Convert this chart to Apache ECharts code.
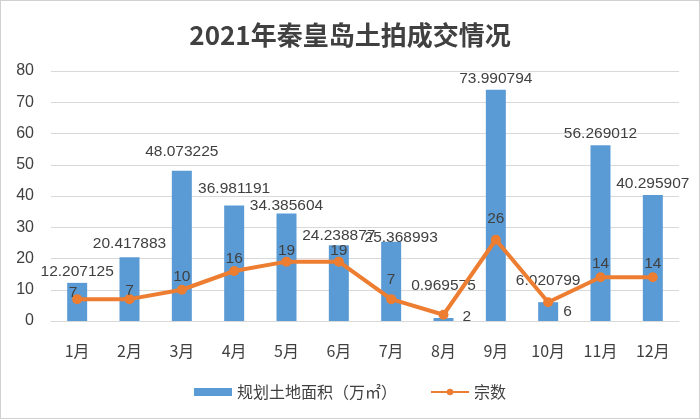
<!DOCTYPE html>
<html><head><meta charset="utf-8">
<script src="https://cdn.jsdelivr.net/npm/echarts@6/dist/echarts.min.js"></script>
<style>html,body{margin:0;padding:0;background:#fff}#c{width:700px;height:419px;box-sizing:border-box;border:1px solid #d0d0d0}</style>
</head><body><div id="c"></div>
<script>
const categories = ['1月','2月','3月','4月','5月','6月','7月','8月','9月','10月','11月','12月'];
const areaValues = [12.207125,20.417883,48.073225,36.981191,34.385604,24.238877,25.368993,0.969575,73.990794,6.020799,56.269012,40.295907];
const countValues = [7,7,10,16,19,19,7,2,26,6,14,14];
const yTicks = [0,10,20,30,40,50,60,70,80];

// label placement tweaks (style only)
const barLabelOffset = [[0,0],[0,-2],[0,-8],[0,-6],[0,3],[0,1],[10,7],[0,-21],[0,0],[0,-10],[0,0],[0,0]];
const lineLabelPos = ['top','top','top','top','top','top','top','right','top','right','top','top'];
const lineLabelOffset = [[-4,8],[0,6],[0,1],[0,2],[0,3],[0,3],[0,-5],[13,2],[0,-7],[9,9],[0,0],[0,0]];

const chart = echarts.init(document.getElementById('c'));
const font = '"Noto Sans CJK SC", sans-serif';
const numFont = 'Arial, "Liberation Sans", sans-serif';
chart.setOption({
  animation:false,
  title:{text:'2021年秦皇岛土拍成交情况',left:'center',top:16,textStyle:{fontSize:26,fontWeight:'bold',color:'#404040',fontFamily:font}},
  legend:{top:378,left:'center',itemGap:33,textStyle:{fontSize:16,color:'#404040',fontFamily:font},
    data:[{name:'规划土地面积（万㎡）',icon:'rect'},{name:'宗数'}],itemWidth:38,itemHeight:8},
  grid:{left:50,right:20,top:70,bottom:97},
  xAxis:{type:'category',data:categories,axisTick:{show:false},
    axisLine:{lineStyle:{color:'#d9d9d9'}},
    axisLabel:{fontSize:16,color:'#404040',margin:22,fontFamily:font}},
  yAxis:{type:'value',min:yTicks[0],max:yTicks[yTicks.length-1],interval:yTicks[1]-yTicks[0],axisLine:{show:false},axisTick:{show:false},
    splitLine:{lineStyle:{color:'#d9d9d9'}},
    axisLabel:{fontSize:16,color:'#404040',margin:17,fontFamily:numFont}},
  series:[
    {name:'规划土地面积（万㎡）',type:'bar',barWidth:20,
      data:areaValues.map((v,i)=>({value:v,label:{offset:barLabelOffset[i]}})),
      itemStyle:{color:'#5B9BD5'},
      label:{show:true,position:'top',fontSize:15.5,color:'#404040',distance:3,fontFamily:numFont}},
    {name:'宗数',type:'line',
      data:countValues.map((v,i)=>({value:v,label:{position:lineLabelPos[i],offset:lineLabelOffset[i]}})),
      symbol:'circle',symbolSize:10,
      itemStyle:{color:'#ED7D31'},lineStyle:{color:'#ED7D31',width:4},
      label:{show:true,fontSize:15.5,color:'#404040',distance:1,fontFamily:numFont}}
  ]
});
</script></body></html>
